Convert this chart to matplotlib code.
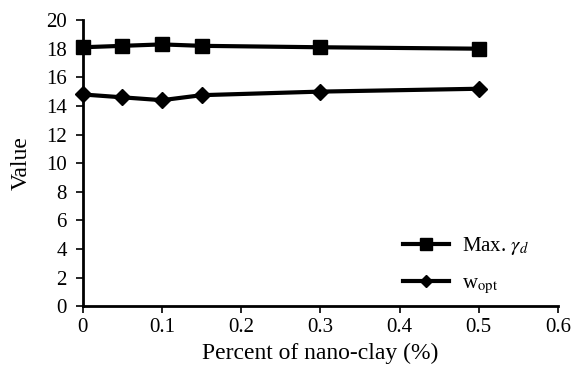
import matplotlib
matplotlib.use("Agg")
import matplotlib.pyplot as plt

plt.rcParams['font.family'] = ['Liberation Serif', 'DejaVu Serif']
plt.rcParams['mathtext.fontset'] = 'stix'

x = [0, 0.05, 0.1, 0.15, 0.3, 0.5]
max_gamma_d = [18.1, 18.2, 18.3, 18.2, 18.1, 18.0]
w_opt = [14.8, 14.6, 14.4, 14.75, 15.0, 15.2]

fig = plt.figure(figsize=(5.83, 3.72), dpi=100)
ax = fig.add_axes([0.142, 0.177, 0.815, 0.769])

ax.plot(x, max_gamma_d, color='black', lw=3, marker='s', ms=10, label=r'Max. $\gamma_d$', clip_on=False, zorder=3)
ax.plot(x, w_opt, color='black', lw=3, marker='D', ms=8, label=r'w$_{\rm opt}$', clip_on=False, zorder=3)

ax.set_xlim(0, 0.6)
ax.set_ylim(0, 20)
ax.set_xticks([0, 0.1, 0.2, 0.3, 0.4, 0.5, 0.6])
ax.set_xticklabels(['0', '0.1', '0.2', '0.3', '0.4', '0.5', '0.6'])
ax.set_yticks(range(0, 21, 2))
for s in ['top', 'right']:
    ax.spines[s].set_visible(False)
for s in ['left', 'bottom']:
    ax.spines[s].set_linewidth(2)
ax.tick_params(direction='out', length=5, width=1.2, labelsize=15, colors='black')
ax.tick_params(axis='y', pad=6.5)
ax.set_xlabel('Percent of nano-clay (%)', fontsize=17)
ax.set_ylabel('Value', fontsize=17, labelpad=10)

leg = ax.legend(loc='lower right', bbox_to_anchor=(0.978, -0.03), frameon=False, fontsize=15,
                handlelength=2.2, handletextpad=0.6, labelspacing=0.8, markerscale=0.8)

fig.savefig('out.png', dpi=100)
